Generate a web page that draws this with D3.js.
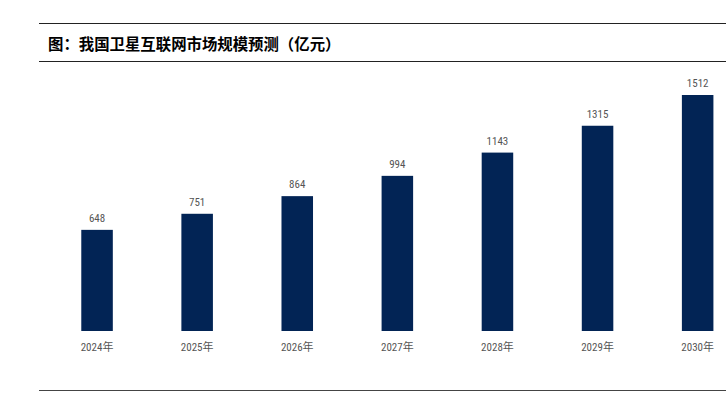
<!DOCTYPE html>
<html><head><meta charset="utf-8">
<script src="https://cdn.jsdelivr.net/npm/d3@7"></script>
<style>body{margin:0;background:#fff;}svg{display:block;}</style>
</head><body>
<script>
const title = "图：我国卫星互联网市场规模预测（亿元）";
const categories = ["2024年","2025年","2026年","2027年","2028年","2029年","2030年"];
const values = [648, 751, 864, 994, 1143, 1315, 1512];

const W = 726, H = 397;
const svg = d3.select("body").append("svg").attr("width", W).attr("height", H);

const x = d3.scaleBand().domain(categories).range([47, 747.7]).paddingInner(0.685).paddingOuter(0.3425);
const y = d3.scaleLinear().domain([0, 1512]).range([331, 95]);

// rules
svg.append("line").attr("x1",39).attr("x2",W).attr("y1",23.5).attr("y2",23.5).attr("stroke","#222").attr("stroke-width",1);
svg.append("line").attr("x1",39).attr("x2",W).attr("y1",61.5).attr("y2",61.5).attr("stroke","#222").attr("stroke-width",1);
svg.append("line").attr("x1",39).attr("x2",W).attr("y1",390.5).attr("y2",390.5).attr("stroke","#444").attr("stroke-width",1.2);

svg.append("text").attr("x",48).attr("y",49.5).text(title)
  .attr("font-family","'Noto Sans CJK SC', sans-serif").attr("font-weight","bold")
  .attr("font-size",15.4).attr("fill","#000");

const lblFont = "'Liberation Sans Narrow', 'Roboto Condensed', 'Noto Sans CJK SC', sans-serif";

svg.selectAll("rect.bar").data(values).enter().append("rect")
  .attr("class","bar")
  .attr("x",(d,i)=>x(categories[i]))
  .attr("width",x.bandwidth())
  .attr("y",d=>y(d))
  .attr("height",d=>y(0)-y(d))
  .attr("fill","#022455");

svg.selectAll("text.val").data(values).enter().append("text")
  .attr("class","val")
  .attr("x",(d,i)=>x(categories[i])+x.bandwidth()/2)
  .attr("y",d=>y(d)-8)
  .attr("text-anchor","middle")
  .attr("font-family",lblFont).attr("font-size",11).attr("fill","#555")
  .text(d=>d);

const xAxis = d3.axisBottom(x).tickSize(0).tickPadding(0);
const gx = svg.append("g").attr("transform","translate(0,331)").call(xAxis);
gx.select(".domain").remove();
gx.selectAll("text").attr("dy",null).attr("y",20)
  .attr("font-family",lblFont).attr("font-size",11).attr("fill","#555");
</script>
</body></html>
